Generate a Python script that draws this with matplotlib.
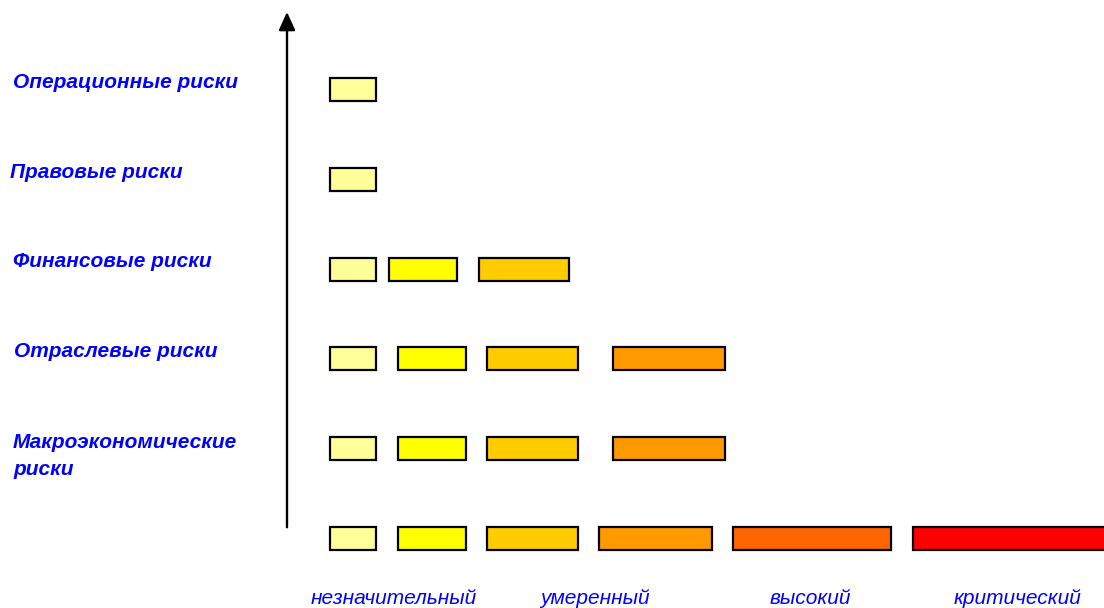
import matplotlib.pyplot as plt

# Risk categories (top to bottom) and the levels shown for each
risk_labels = ['Операционные риски', 'Правовые риски', 'Финансовые риски',
               'Отраслевые риски', 'Макроэкономические\nриски']
level_labels = ['незначительный', 'умеренный', 'высокий', 'критический']
level_label_x = [394, 595, 810, 1018]

# bar left edges and widths (pixel-like x units) per row, bottom row = scale
rows = {
    5: ([330], [46]),
    4: ([330], [46]),
    3: ([330, 389, 479], [46, 68, 90]),
    2: ([330, 398, 487, 613], [46, 68, 91, 112]),
    1: ([330, 398, 487, 613], [46, 68, 91, 112]),
    0: ([330, 398, 487, 599, 733, 913], [46, 68, 91, 113, 158, 195]),
}
colors = ['#FFFF99', '#FFFF00', '#FFCC00', '#FF9900', '#FF6600', '#FF0000']

plt.rcParams['font.family'] = ['Liberation Sans', 'DejaVu Sans']

fig = plt.figure(figsize=(11.04, 6.08), dpi=100)
ax = fig.add_axes([0, 0, 1, 1])
ax.set_xlim(0, 1104)
ax.set_ylim(-0.781, 6.004)
ax.axis('off')

for row, (lefts, widths) in rows.items():
    ax.barh([row] * len(lefts), widths, left=lefts, height=0.257,
            color=colors[:len(lefts)], edgecolor='black', linewidth=1.6, zorder=3)

# vertical arrow
ax.annotate('', xy=(287, 5.87), xytext=(287, 0.12),
            arrowprops=dict(arrowstyle='-|>,head_length=1.1,head_width=0.5',
                            color='black', lw=1.7, shrinkA=0, shrinkB=0))

# risk names on the left
label_x = [13, 10, 13, 14, 13]
for i, (lab, x) in enumerate(zip(risk_labels, label_x)):
    row = 5 - i
    if '\n' in lab:
        ax.text(x, row + 0.17, lab, ha='left', va='top', fontsize=15,
                fontweight='bold', fontstyle='italic', color='#0000FF',
                linespacing=1.55)
    else:
        ax.text(x, row + 0.02, lab, ha='left', va='baseline', fontsize=15,
                fontweight='bold', fontstyle='italic', color='#0000FF')

# level names at the bottom
for lab, x in zip(level_labels, level_label_x):
    ax.text(x, -0.737, lab, ha='center', va='baseline', fontsize=15,
            fontstyle='italic', color='#0000FF')

fig.savefig('out.png', dpi=100, facecolor='white')
